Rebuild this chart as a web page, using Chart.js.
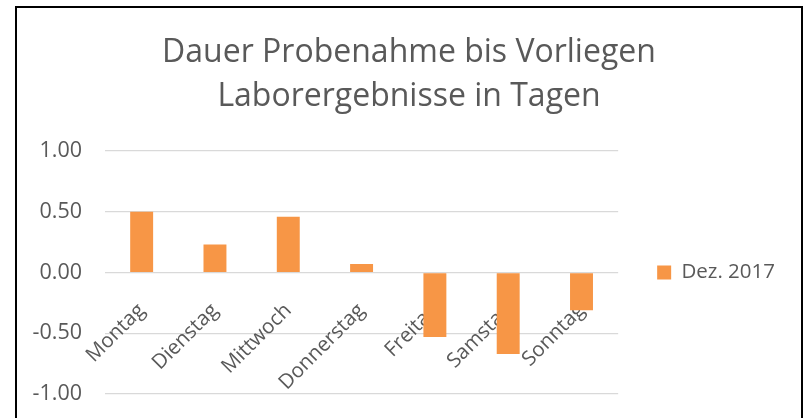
<!DOCTYPE html>
<html>
<head>
<meta charset="utf-8">
<script src="https://cdn.jsdelivr.net/npm/chart.js@4.4.0/dist/chart.umd.min.js"></script>
<style>
    html, body { margin: 0; padding: 0; background: #fff; overflow: hidden; }
    #frame {
        position: absolute; left: 15px; top: 6px; width: 788px; height: 430px;
        box-sizing: border-box; border: 2px solid #000; border-bottom: none;
    }
    #wrap { position: absolute; left: 0; top: 0; width: 807px; height: 430px; }
</style>
</head>
<body>
<div id="frame"></div>
<div id="wrap"><canvas id="chartDays" width="807" height="430"></canvas></div>
<script>
// data
const titleLines = ['Dauer Probenahme bis Vorliegen', 'Laborergebnisse in Tagen'];
const days = ['Montag', 'Dienstag', 'Mittwoch', 'Donnerstag', 'Freitag', 'Samstag', 'Sonntag'];
const seriesName = 'Dez. 2017';
const durations = [0.50, 0.23, 0.46, 0.07, -0.53, -0.67, -0.31];
const yMin = -1, yMax = 1, yStep = 0.5;

const textColor = '#595959';
const fontFamily = "'Open Sans', 'Liberation Sans', sans-serif";
const labelSize = 20.5;

// the title is centred on the frame, not on the canvas
const titleShift = {
    id: 'titleShift',
    afterLayout(chart) {
        chart.titleBlock.left += 4;
        chart.titleBlock.right += 4;
    }
};

new Chart(document.getElementById('chartDays'), {
    type: 'bar',
    data: {
        labels: days,
        datasets: [{
            label: seriesName,
            data: durations,
            backgroundColor: '#F79646',
            borderWidth: 0,
            categoryPercentage: 1,
            barPercentage: 0.313
        }]
    },
    options: {
        responsive: false,
        animation: false,
        layout: { padding: { left: 25, right: 22, top: 0, bottom: 17 } },
        plugins: {
            title: {
                display: true,
                text: titleLines,
                color: textColor,
                font: { family: fontFamily, size: 32, weight: 'normal', lineHeight: 44 / 32 },
                padding: { top: 31, bottom: 32 }
            },
            legend: {
                position: 'right',
                fullSize: false,
                labels: {
                    boxWidth: 14,
                    boxHeight: 14,
                    padding: 39,
                    color: textColor,
                    font: { family: fontFamily, size: labelSize }
                }
            },
            tooltip: { enabled: false }
        },
        scales: {
            x: {
                position: { y: 0 },
                z: 1,
                grid: { display: false },
                border: { display: false },
                ticks: {
                    color: textColor,
                    font: { family: fontFamily, size: labelSize },
                    minRotation: 45,
                    maxRotation: 45,
                    padding: 18
                }
            },
            y: {
                min: yMin,
                max: yMax,
                grid: { color: '#d9d9d9', lineWidth: 1.3, drawTicks: false },
                border: { display: false },
                ticks: {
                    stepSize: yStep,
                    padding: 23,
                    color: textColor,
                    font: { family: fontFamily, size: 21.5 },
                    callback: v => v.toFixed(2)
                },
                afterFit: s => { s.width = 80; }
            }
        }
    },
    plugins: [titleShift]
});
</script>
</body>
</html>
